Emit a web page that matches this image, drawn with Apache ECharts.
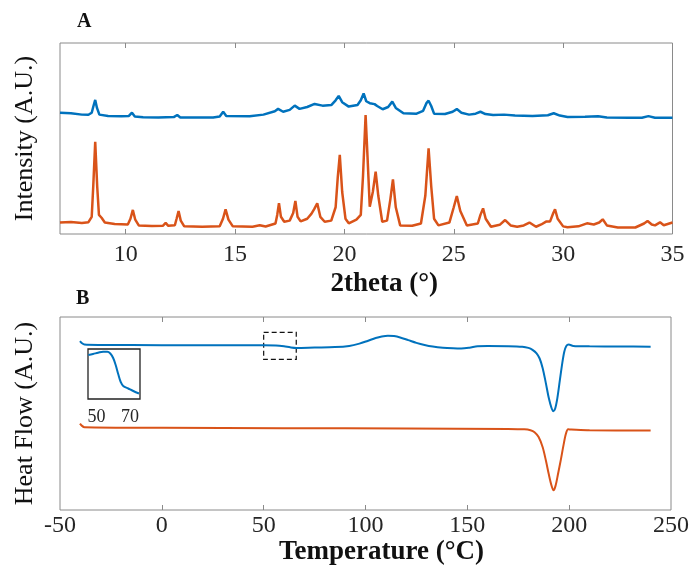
<!DOCTYPE html>
<html>
<head>
<meta charset="utf-8">
<script src="https://cdn.jsdelivr.net/npm/echarts@6/dist/echarts.min.js"></script>
<style>html,body{margin:0;padding:0;background:#fff}#c{width:692px;height:576px}</style>
</head>
<body>
<div id="c"></div>
<script>
// ---------- DATA ----------
const xrdTicks = [10, 15, 20, 25, 30, 35];
const dscTicks = [-50, 0, 50, 100, 150, 200, 250];
const insetTicks = [50, 70];

// XRD pattern, amorphous-ish sample (blue): [2theta, intensity A.U.]
const xrdBlue = [
  [7.0,63.5],[7.5,63.2],[8.0,62.5],[8.3,62.4],[8.45,63.5],[8.53,67],[8.61,70.2],[8.69,66],[8.8,62.5],
  [9.2,61.8],[9.8,61.6],[10.15,61.8],[10.29,63.5],[10.42,61.5],[10.8,61.1],[11.5,61.0],[12.2,61.2],
  [12.36,62.3],[12.5,61.0],[13.2,61.0],[14.0,61.0],[14.3,61.5],[14.46,64],[14.6,61.8],[15.67,61.6],
  [16.3,62.5],[16.82,64.3],[16.97,65.5],[17.2,64.0],[17.5,65],[17.73,67.2],[17.95,65.5],[18.3,66.5],
  [18.64,68.1],[19.0,67.2],[19.4,67.5],[19.6,70],[19.74,72.3],[19.9,69],[20.2,66.7],[20.6,67.5],
  [20.75,70],[20.88,73.6],[21.0,69.5],[21.16,68.5],[21.38,68],[21.5,67],[21.75,65.3],[22.0,66.5],
  [22.19,69.3],[22.35,66],[22.7,63.2],[23.3,63.0],[23.6,64.5],[23.75,68.5],[23.85,69.8],[23.97,67],
  [24.1,63.0],[24.6,62.8],[24.95,64],[25.14,65.4],[25.35,63.5],[25.7,62.5],[26.0,63],[26.22,64.0],
  [26.45,62.8],[26.8,62.3],[27.3,62.5],[27.8,62.0],[28.6,61.8],[29.3,62.2],[29.57,63.2],[29.85,62.0],
  [30.2,61.3],[31.0,61.4],[31.6,61.6],[32.0,61.0],[33.0,60.8],[33.6,60.9],[33.9,61.7],[34.2,60.9],[35.0,60.8]
];

// XRD pattern, crystalline sample (orange)
const xrdOrange = [
  [7.0,6.0],[7.5,6.3],[8.0,5.8],[8.3,6.2],[8.45,9],[8.52,25],[8.61,48.3],[8.70,25],[8.78,10],[8.9,8.5],
  [9.05,6],[9.5,5.2],[10.1,5.0],[10.22,8],[10.33,12.6],[10.44,7.5],[10.6,4.5],[11.2,4.2],[11.7,4.3],
  [11.83,5.8],[11.95,4.3],[12.25,4.6],[12.33,8],[12.42,12.0],[12.52,7],[12.68,4.0],[13.5,3.8],[14.3,4.0],
  [14.45,8],[14.57,12.9],[14.70,7.5],[14.9,4.0],[15.8,3.8],[16.13,4.6],[16.4,3.9],[16.85,5.5],[16.93,10],
  [17.01,16.1],[17.1,9],[17.25,6.4],[17.5,7],[17.66,11],[17.76,17.3],[17.86,9],[18.0,6.6],[18.3,8],
  [18.49,10.5],[18.62,13],[18.76,16.1],[18.9,9],[19.1,6.4],[19.4,7],[19.6,14],[19.7,30],[19.79,41.4],
  [19.9,22],[20.05,8],[20.2,5.6],[20.55,7.5],[20.75,10],[20.85,30],[20.97,62.3],[21.06,40],[21.16,14.3],
  [21.3,22],[21.43,32.6],[21.55,20],[21.73,6.4],[21.95,7],[22.1,18],[22.22,28.6],[22.35,14],[22.55,4.5],
  [23.1,4.3],[23.5,5.5],[23.7,20],[23.85,44.9],[23.97,25],[24.1,8],[24.3,4.5],[24.8,6],[25.0,14],
  [25.14,19.9],[25.3,12],[25.6,4.5],[26.1,5.5],[26.22,10],[26.34,13.4],[26.46,8],[26.7,3.8],[27.1,4.8],
  [27.35,7.3],[27.6,4.5],[27.9,3.8],[28.2,4.5],[28.46,6.0],[28.76,3.8],[29.0,5.0],[29.22,6.5],[29.4,6.5],
  [29.55,11],[29.63,12.9],[29.75,8],[30.0,4.0],[30.2,3.5],[30.7,4.0],[31.09,5.6],[31.4,5],[31.65,6],
  [31.81,7.7],[32.0,4.5],[32.5,3.4],[33.3,3.4],[33.7,5.5],[33.86,6.8],[34.05,5],[34.2,4.5],[34.43,6.1],
  [34.6,4.6],[35.0,6.0]
];

// DSC thermograms: [temperature degC, heat flow A.U.]
const dscBlue = [
  [-40.2,87.5],[-39.2,86.4],[-38,85.7],[-30,85.5],[0,85.4],[30,85.3],[50,85.3],[56,85.2],[60,84.8],
  [63,84.3],[66,84.0],[75,84.2],[85,84.4],[92,85.0],[97,86.2],[101,87.6],[105,89.1],[108,89.9],[111,90.3],
  [114,90.1],[117,89.4],[121,88.0],[125,86.6],[129,85.5],[133,84.7],[138,84.1],[143,83.8],[147,83.7],
  [151,84.1],[155,84.8],[160,85.0],[170,84.9],[177,84.6],[180,84.0],[182,83.0],[184,81.2],[185.5,78.5],
  [187,73.5],[188.5,66],[190,58],[191.3,53],[192.2,51.2],[193.1,52.5],[194.2,58],[195.4,67],[196.6,76],
  [197.6,82],[198.6,85.0],[199.8,85.7],[202,85.0],[210,84.8],[225,84.7],[240,84.6]
];
const dscOrange = [
  [-40.2,44.8],[-39.2,43.6],[-38,42.9],[0,42.6],[60,42.4],[120,42.2],[170,42.0],[178,41.8],[181,41.3],
  [183,40.3],[185,37.8],[187,32.5],[188.6,25.5],[190,18.5],[191.3,12.8],[192.3,10.2],[193.3,12.5],
  [194.5,18.5],[195.9,26],[197.2,33.5],[198.4,39.5],[199.5,41.8],[201,41.7],[210,41.3],[240,41.2]
];
// Inset: blue DSC around the glass transition
const insetBlue = [
  [45.2,8.8],[48,9.0],[51,9.25],[54,9.45],[56.5,9.45],[58.3,9.1],[60,8.2],[61.5,6.8],[63,5.0],
  [64.5,3.4],[66,2.6],[69,2.1],[72,1.6],[75.4,1.1]
];
// Dashed zoom box on the main DSC plot: [T, heatflow] corners
const zoomBox = [[50, 92], [66, 78]];

// ---------- CHART ----------
const FONT = '"Liberation Serif", "DejaVu Serif", serif';
const BLUE = '#0072BD', ORANGE = '#D95319';
const FRAME = '#8a8a8a';
const chart = echarts.init(document.getElementById('c'), null, {renderer: 'canvas'});

function frameX(gridIndex, min, max, ticks, position, showLabels, name, extra) {
  return Object.assign({
    type: 'value', gridIndex, min, max, position,
    axisLine: {show: false},
    axisTick: {show: true, inside: true, length: 5, lineStyle: {color: FRAME, width: 1}, customValues: ticks},
    axisLabel: {show: showLabels, customValues: ticks, fontFamily: FONT, fontSize: 24, color: '#262626', margin: 10},
    splitLine: {show: false},
    name: name || '', nameLocation: 'middle'
  }, extra || {});
}
function hiddenY(gridIndex, min, max, name) {
  return {
    type: 'value', gridIndex, min, max,
    axisLine: {show: false}, axisTick: {show: false}, axisLabel: {show: false}, splitLine: {show: false},
    name: name || '', nameLocation: 'middle', nameRotate: 90, nameGap: 22,
    nameTextStyle: {fontFamily: FONT, fontSize: 26, color: '#111'}
  };
}

const option = {
  animation: false,
  backgroundColor: '#fff',
  grid: [
    {left: 60, right: 19.5, top: 43, height: 191, show: true, borderColor: FRAME, borderWidth: 1, backgroundColor: 'transparent'},
    {left: 60, right: 19.5, top: 317, height: 193, show: true, borderColor: FRAME, borderWidth: 1, backgroundColor: 'transparent'},
    {left: 88, width: 52, top: 349, height: 50, show: true, borderColor: '#222', borderWidth: 1.3, backgroundColor: '#fff'}
  ],
  xAxis: [
    frameX(0, 7, 35, xrdTicks.slice(0, 5), 'bottom', true, '2theta (°)', {
      axisLabel: {show: true, customValues: xrdTicks, fontFamily: FONT, fontSize: 24, color: '#262626', margin: 9},
      nameGap: 37,
      nameTextStyle: {fontFamily: FONT, fontSize: 27, fontWeight: 'bold', color: '#111', padding: [0, 0, 0, 36]}
    }),
    frameX(0, 7, 35, xrdTicks.slice(0, 5), 'top', false),
    frameX(1, -50, 250, dscTicks.slice(1, 6), 'bottom', true, 'Temperature (°C)', {
      axisLabel: {show: true, customValues: dscTicks, fontFamily: FONT, fontSize: 24, color: '#262626', margin: 4},
      nameGap: 27,
      nameTextStyle: {fontFamily: FONT, fontSize: 27, fontWeight: 'bold', color: '#111', padding: [0, 0, 0, 32]}
    }),
    frameX(1, -50, 250, dscTicks.slice(1, 6), 'top', false),
    {
      type: 'value', gridIndex: 2, min: 45, max: 76, position: 'bottom',
      axisLine: {show: false}, axisTick: {show: false}, splitLine: {show: false},
      axisLabel: {show: true, customValues: insetTicks, fontFamily: FONT, fontSize: 18, color: '#262626', margin: 9}
    }
  ],
  yAxis: [
    hiddenY(0, 0, 100, 'Intensity (A.U.)'),
    hiddenY(1, 0, 100, 'Heat Flow (A.U.)'),
    {type: 'value', gridIndex: 2, min: 0, max: 10, show: false}
  ],
  graphic: [
    {type: 'text', left: 77, top: 12, style: {text: 'A', font: 'bold 20px ' + FONT, fill: '#111'}},
    {type: 'text', left: 76, top: 289, style: {text: 'B', font: 'bold 20px ' + FONT, fill: '#111'}}
  ],
  series: [
    {type: 'line', name: 'XRD blue', xAxisIndex: 0, yAxisIndex: 0, data: xrdBlue, showSymbol: false, symbol: 'none',
     lineStyle: {color: BLUE, width: 2.5}, z: 3},
    {type: 'line', name: 'XRD orange', xAxisIndex: 0, yAxisIndex: 0, data: xrdOrange, showSymbol: false, symbol: 'none',
     lineStyle: {color: ORANGE, width: 2.5}, z: 3},
    {type: 'line', name: 'DSC blue', xAxisIndex: 2, yAxisIndex: 1, data: dscBlue, showSymbol: false, symbol: 'none',
     smooth: 0.3, lineStyle: {color: BLUE, width: 2}, z: 3,
     markArea: {silent: true, itemStyle: {color: 'rgba(0,0,0,0)', borderColor: '#111', borderWidth: 1.2, borderType: [5, 3]},
       data: [[{coord: zoomBox[0]}, {coord: zoomBox[1]}]]}},
    {type: 'line', name: 'DSC orange', xAxisIndex: 2, yAxisIndex: 1, data: dscOrange, showSymbol: false, symbol: 'none',
     smooth: 0.3, lineStyle: {color: ORANGE, width: 2}, z: 3},
    {type: 'line', name: 'Inset', xAxisIndex: 4, yAxisIndex: 2, data: insetBlue, showSymbol: false, symbol: 'none',
     smooth: 0.4, lineStyle: {color: BLUE, width: 2}, z: 5}
  ]
};
chart.setOption(option);
</script>
</body>
</html>
